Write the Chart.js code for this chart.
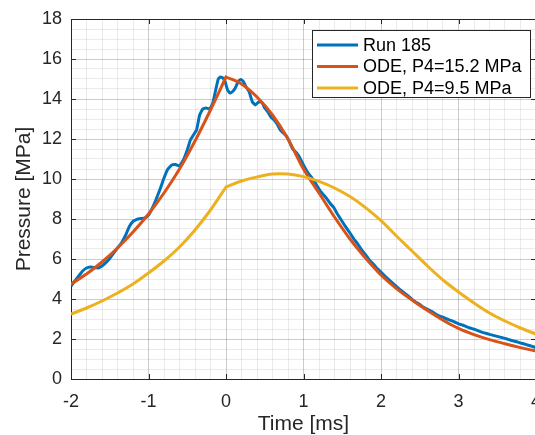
<!DOCTYPE html>
<html><head><meta charset="utf-8">
<script src="https://cdn.jsdelivr.net/npm/chart.js@4"></script>
<style>html,body{margin:0;padding:0;overflow:hidden;background:#fff}#wrap{width:537px;height:435px}</style>
</head><body><div id="wrap"><canvas id="c"></canvas></div>
<script>
// ---- data ----
// t = 0 appears twice: the ODE curves have a corner (kink) there
const timeODE = [-2,-1.8,-1.6,-1.4,-1.2,-1,-0.8,-0.6,-0.4,-0.2,0,0,0.2,0.4,0.6,0.8,1,1.2,1.4,1.6,1.8,2,2.2,2.4,2.6,2.8,3,3.2,3.4,3.6,3.8,4];
const pressureODE152 = [4.75,5.25,5.85,6.55,7.35,8.25,9.3,10.5,11.9,13.45,15.1,15.1,14.75,14.1,13.2,12.0,10.5,9.3,8.1,7.0,6.05,5.2,4.52,3.95,3.42,2.94,2.53,2.22,1.97,1.76,1.57,1.4];
const pressureODE95 = [3.25,3.55,3.9,4.3,4.75,5.3,5.9,6.6,7.45,8.45,9.6,9.6,9.9,10.1,10.25,10.25,10.12,9.88,9.55,9.12,8.57,7.92,7.15,6.4,5.65,4.95,4.35,3.8,3.3,2.9,2.55,2.25];
const runTime = [-2,-1.95,-1.9,-1.85,-1.8,-1.75,-1.7,-1.65,-1.6,-1.55,-1.5,-1.45,-1.4,-1.35,-1.3,-1.25,-1.2,-1.15,-1.1,-1.05,-1,-0.95,-0.9,-0.85,-0.8,-0.75,-0.7,-0.65,-0.6,-0.55,-0.5,-0.46,-0.42,-0.38,-0.34,-0.3,-0.26,-0.21,-0.17,-0.13,-0.1,-0.07,-0.04,-0.01,0.02,0.05,0.08,0.12,0.16,0.19,0.22,0.26,0.3,0.34,0.38,0.42,0.46,0.5,0.54,0.58,0.62,0.66,0.7,0.74,0.78,0.82,0.86,0.9,0.94,0.98,1.02,1.06,1.1,1.14,1.18,1.22,1.26,1.3,1.35,1.39,1.43,1.47,1.52,1.56,1.6,1.65,1.7,1.75,1.8,1.85,1.9,1.95,2,2.05,2.1,2.15,2.2,2.25,2.3,2.35,2.4,2.45,2.5,2.55,2.6,2.65,2.7,2.75,2.8,2.85,2.9,2.95,3,3.05,3.1,3.15,3.2,3.25,3.3,3.35,3.4,3.45,3.5,3.55,3.6,3.65,3.7,3.75,3.8,3.85,3.9,3.95,4];
const runPressure = [4.65,4.9,5.15,5.4,5.55,5.6,5.58,5.55,5.65,5.82,6.02,6.3,6.55,6.8,7.15,7.6,7.88,7.98,8.02,8.05,8.2,8.55,9.0,9.5,10.05,10.5,10.7,10.72,10.65,10.95,11.45,11.95,12.2,12.45,13.2,13.5,13.55,13.5,13.8,14.5,15.0,15.1,15.05,14.85,14.45,14.3,14.35,14.55,14.9,14.98,14.9,14.6,14.35,13.85,13.7,13.85,13.85,13.55,13.35,13.1,12.95,12.75,12.45,12.3,12.15,11.85,11.5,11.35,11.15,10.85,10.55,10.3,10.1,9.9,9.62,9.38,9.2,9.02,8.75,8.58,8.3,8.05,7.75,7.52,7.3,7.0,6.75,6.45,6.22,5.95,5.75,5.52,5.35,5.15,4.97,4.8,4.62,4.45,4.3,4.15,3.98,3.84,3.72,3.58,3.48,3.38,3.26,3.16,3.09,3.0,2.93,2.85,2.76,2.7,2.62,2.55,2.49,2.42,2.34,2.29,2.23,2.18,2.13,2.08,2.03,1.97,1.91,1.86,1.8,1.75,1.69,1.63,1.57];
const seriesLabels = ['Run 185','ODE, P4=15.2 MPa','ODE, P4=9.5 MPa'];
const xTickLabels = ['-2','-1','0','1','2','3','4'];
const yTickLabels = ['0','2','4','6','8','10','12','14','16','18'];

const FONT = '"Liberation Sans", Arial, Helvetica, sans-serif';
const AXC = '#262626';
const near = (v, step) => Math.abs(v/step - Math.round(v/step)) < 1e-6;
const xMajor = v => near(v,1);
const yMajor = v => near(v,2);

const framePlugin = {
  id:'frame',
  afterDatasetsDraw(chart){
    const {ctx, chartArea:a, scales:{x,y}} = chart;
    ctx.save();
    ctx.strokeStyle = AXC; ctx.lineWidth = 1;
    ctx.beginPath();
    ctx.moveTo(a.left, a.top+0.5); ctx.lineTo(a.right, a.top+0.5);
    ctx.moveTo(a.right-0.5, a.top); ctx.lineTo(a.right-0.5, a.bottom);
    ctx.stroke();
    ctx.beginPath();
    xTickLabels.forEach(l => {
      const px = Math.round(x.getPixelForValue(Number(l)))+0.5;
      ctx.moveTo(px, a.bottom); ctx.lineTo(px, a.bottom-5);
      ctx.moveTo(px, a.top); ctx.lineTo(px, a.top+5);
    });
    yTickLabels.forEach(l => {
      const py = Math.round(y.getPixelForValue(Number(l)))+0.5;
      ctx.moveTo(a.left, py); ctx.lineTo(a.left+5, py);
      ctx.moveTo(a.right, py); ctx.lineTo(a.right-5, py);
    });
    ctx.stroke();
    ctx.restore();
  }
};

const legendPlugin = {
  id:'boxLegend',
  afterDraw(chart){
    const ctx = chart.ctx;
    ctx.save();
    const x0 = 312, y0 = 30, w = 218, h = 67;
    ctx.fillStyle = '#fff'; ctx.fillRect(x0, y0, w, h);
    ctx.strokeStyle = AXC; ctx.lineWidth = 1; ctx.strokeRect(x0+0.5, y0+0.5, w, h);
    chart.data.datasets.forEach((ds, i) => {
      const yy = 45 + i*21.5;
      ctx.strokeStyle = ds.borderColor; ctx.lineWidth = 3;
      ctx.beginPath(); ctx.moveTo(317, yy); ctx.lineTo(358, yy); ctx.stroke();
      ctx.fillStyle = '#000'; ctx.font = '18px ' + FONT; ctx.textBaseline = 'middle'; ctx.textAlign = 'left';
      ctx.fillText(ds.label, 363, yy + 1);
    });
    ctx.restore();
  }
};

const toXY = (xs, ys) => xs.map((t, i) => ({x: t, y: ys[i]}));

new Chart(document.getElementById('c'), {
  type: 'line',
  data: {
    datasets: [
      {label: seriesLabels[0], data: toXY(runTime, runPressure), borderColor: '#0072BD', borderWidth: 3, pointRadius: 0, tension: 0.1, order: 2},
      {label: seriesLabels[1], data: toXY(timeODE, pressureODE152), borderColor: '#D95319', borderWidth: 3, pointRadius: 0, tension: 0.35, order: 1},
      {label: seriesLabels[2], data: toXY(timeODE, pressureODE95), borderColor: '#EDB120', borderWidth: 3, pointRadius: 0, tension: 0.35, order: 0}
    ]
  },
  options: {
    responsive: true, maintainAspectRatio: false, animation: false,
    layout: {padding: {top: 19, right: 1, left: 0, bottom: 0}},
    plugins: {legend: {display: false}, tooltip: {enabled: false}},
    scales: {
      x: {
        type: 'linear', min: -2, max: 4,
        ticks: {stepSize: 0.2, autoSkip: false, maxRotation: 0, padding: 12, color: AXC, font: {size: 18, family: FONT},
          callback: v => xMajor(v) ? xTickLabels[Math.round(v)+2] : ''},
        grid: {drawTicks: false, lineWidth: 1, color: c => (c.tick && xMajor(c.tick.value)) ? 'rgba(0,0,0,0.2)' : 'rgba(0,0,0,0.08)'},
        border: {display: true, color: AXC, width: 1},
        title: {display: true, text: 'Time [ms]', color: AXC, font: {size: 21, family: FONT, lineHeight: 1}, padding: {top: 0, bottom: 0}},
        afterFit(s){ s.height = 56; s.paddingLeft = 0; s.paddingRight = 0; }
      },
      y: {
        type: 'linear', min: 0, max: 18,
        ticks: {stepSize: 0.5, autoSkip: false, padding: 9, color: AXC, font: {size: 18, family: FONT},
          callback: v => yMajor(v) ? yTickLabels[Math.round(v/2)] : ''},
        grid: {drawTicks: false, lineWidth: 1, color: c => (c.tick && yMajor(c.tick.value)) ? 'rgba(0,0,0,0.2)' : 'rgba(0,0,0,0.08)'},
        border: {display: true, color: AXC, width: 1},
        title: {display: true, text: 'Pressure [MPa]', color: AXC, font: {size: 21, family: FONT, lineHeight: 1}, padding: {top: 14, bottom: 0}},
        afterFit(s){ s.width = 71; s.paddingTop = 0; s.paddingBottom = 0; }
      }
    }
  },
  plugins: [framePlugin, legendPlugin]
});
</script>
</body></html>
